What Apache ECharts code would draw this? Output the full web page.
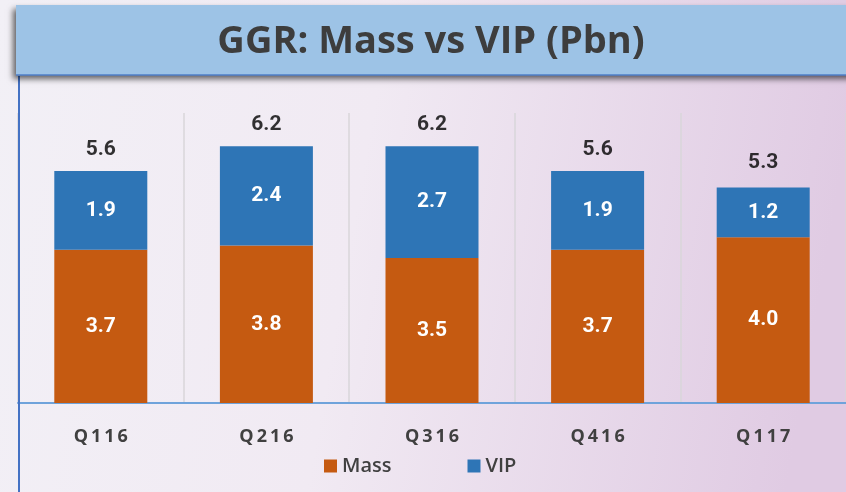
<!DOCTYPE html>
<html>
<head>
<meta charset="utf-8">
<title>GGR: Mass vs VIP (Pbn)</title>
<script src="https://cdn.jsdelivr.net/npm/echarts@6/dist/echarts.min.js"></script>
<style>
  html, body { margin: 0; padding: 0; }
  #chart { width: 846px; height: 492px; }
</style>
</head>
<body>
<div id="chart"></div>
<script>
// Quarterly gross gaming revenue, split by segment (Pbn)
const quarters = ['Q116', 'Q216', 'Q316', 'Q416', 'Q117'];
const massValues = [3.7, 3.8, 3.5, 3.7, 4.0];
const vipValues = [1.9, 2.4, 2.7, 1.9, 1.2];
const totalValues = [5.6, 6.2, 6.2, 5.6, 5.3];

const MASS_COLOR = '#c55a11';
const VIP_COLOR = '#2e75b6';
const NARROW = 'Roboto, "Liberation Sans", sans-serif';

const chart = echarts.init(document.getElementById('chart'));

const inBarLabel = {
  show: true,
  position: 'inside',
  color: '#ffffff',
  fontFamily: NARROW,
  fontWeight: 'bold',
  fontSize: 21,
  formatter: p => p.value.toFixed(1)
};

chart.setOption({
  animation: false,
  backgroundColor: new echarts.graphic.LinearGradient(0, 0, 1, 0.3, [
    { offset: 0, color: '#f2f0f6' },
    { offset: 0.45, color: '#f1eaf3' },
    { offset: 1, color: '#e0cbe3' }
  ]),
  graphic: [
    {
      type: 'rect',
      z: 10,
      shape: { x: 16, y: 5, width: 840, height: 70 },
      style: {
        fill: '#9dc3e6',
        shadowBlur: 6,
        shadowOffsetX: -3,
        shadowOffsetY: 4,
        shadowColor: 'rgba(0,0,0,0.6)'
      }
    },
    {
      type: 'line',
      z: 11,
      shape: { x1: 16, y1: 75, x2: 846, y2: 75 },
      style: { stroke: '#4f7fc8', lineWidth: 1.5 }
    },
    {
      type: 'text',
      z: 12,
      x: 431,
      y: 42,
      style: {
        text: 'GGR: Mass vs VIP (Pbn)',
        fill: '#3d3d3d',
        font: 'bold 38px "Open Sans", sans-serif',
        textAlign: 'center',
        textVerticalAlign: 'middle'
      }
    },
    {
      type: 'line',
      z: 9,
      shape: { x1: 19, y1: 76, x2: 19, y2: 492 },
      style: { stroke: '#4472c4', lineWidth: 2 }
    }
  ],
  legend: {
    data: ['Mass', 'VIP'],
    left: 324,
    top: 456,
    padding: 0,
    itemWidth: 13,
    itemHeight: 13,
    itemGap: 76,
    itemStyle: { borderWidth: 0 },
    icon: 'rect',
    textStyle: {
      color: '#404040',
      fontFamily: '"Open Sans", sans-serif',
      fontWeight: 600,
      fontSize: 20
    }
  },
  grid: { left: 18, right: -2, top: 113, bottom: 89 },
  xAxis: {
    type: 'category',
    data: quarters,
    axisLine: { lineStyle: { color: '#6fa3db', width: 2 } },
    axisTick: { show: false },
    axisLabel: {
      margin: 25,
      color: '#404040',
      fontFamily: '"Open Sans", sans-serif',
      fontWeight: 'bold',
      fontSize: 18,
      formatter: v => v.split('').join('\u2009')
    },
    splitLine: { show: true, lineStyle: { color: '#d8d6da', width: 1.5 } }
  },
  yAxis: {
    type: 'value',
    min: 0,
    max: 7,
    show: false,
    splitLine: { show: false }
  },
  series: [
    {
      name: 'Mass',
      type: 'bar',
      stack: 'ggr',
      barWidth: 93,
      data: massValues,
      itemStyle: { color: MASS_COLOR },
      label: inBarLabel
    },
    {
      name: 'VIP',
      type: 'bar',
      stack: 'ggr',
      barWidth: 93,
      data: vipValues,
      itemStyle: { color: VIP_COLOR },
      label: inBarLabel
    },
    {
      name: 'Total',
      type: 'scatter',
      data: totalValues,
      symbolSize: 1,
      itemStyle: { color: 'rgba(0,0,0,0)' },
      label: {
        show: true,
        position: 'top',
        distance: 10,
        color: '#000000',
        fontFamily: NARROW,
        fontWeight: 'bold',
        fontSize: 21,
        formatter: p => p.value.toFixed(1)
      }
    }
  ]
});
</script>
</body>
</html>
